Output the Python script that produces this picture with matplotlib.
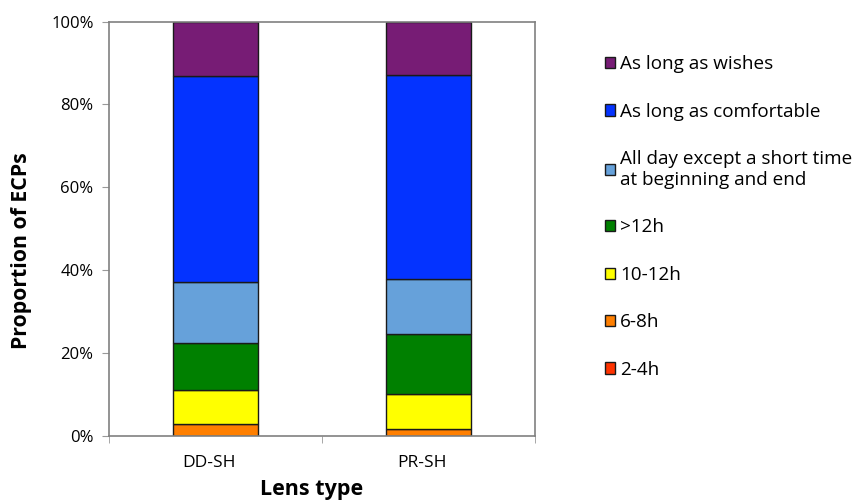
import numpy as np
import matplotlib.pyplot as plt
from matplotlib.ticker import PercentFormatter, FixedLocator

plt.rcParams['font.family'] = ['Open Sans', 'DejaVu Sans']

lens_types = ['DD-SH', 'PR-SH']
categories = ['2-4h', '6-8h', '10-12h', '>12h',
              'All day except a short time\nat beginning and end',
              'As long as comfortable', 'As long as wishes']
# percentage of ECPs per wearing-time answer, for DD-SH and PR-SH
shares = {
    '2-4h': [0.0, 0.0],
    '6-8h': [2.8, 1.6],
    '10-12h': [8.3, 8.5],
    '>12h': [11.3, 14.5],
    'All day except a short time\nat beginning and end': [14.8, 13.2],
    'As long as comfortable': [49.7, 49.4],
    'As long as wishes': [13.1, 12.8],
}
colors = ['#FF3300', '#FF7F00', '#FFFF00', '#008000', '#66A1DA', '#0433FF', '#771C75']

fig = plt.figure(figsize=(8.64, 5.01), dpi=100)
ax = fig.add_axes([0.126, 0.1307, 0.493, 0.8263])

x = np.arange(len(lens_types)) + 0.5
bottom = np.zeros(len(lens_types))
handles = []
for cat, col in zip(categories, colors):
    vals = np.array(shares[cat])
    b = ax.bar(x, vals, 0.4, bottom=bottom, color=col, edgecolor='#1a1a1a',
               linewidth=1.0, label=cat)
    handles.append(b)
    bottom += vals

ax.set_xlim(0, 2)
ax.set_ylim(0, 100)
ax.yaxis.set_major_locator(FixedLocator([0, 20, 40, 60, 80, 100]))
ax.yaxis.set_major_formatter(PercentFormatter(decimals=0))
ax.set_xticks(x - 0.03)
ax.set_xticklabels(lens_types)
ax.set_xticks([0, 1, 2], minor=True)
ax.tick_params(axis='x', which='major', length=0, pad=14, labelsize=12.5)
ax.tick_params(axis='x', which='minor', length=5, color='#999999')
ax.tick_params(axis='y', length=5, color='#999999', labelsize=12, pad=6)
for s in ax.spines.values():
    s.set_color('#808080')
    s.set_linewidth(1.2)

ax.set_ylabel('Proportion of ECPs', fontsize=15.3, fontweight='bold')
ax.yaxis.set_label_coords(-0.181, 0.446)
ax.set_xlabel('Lens type', fontsize=15.5, fontweight='bold')
ax.xaxis.set_label_coords(0.475, -0.105)

leg = fig.legend(handles[::-1], categories[::-1], loc='upper left',
                 bbox_to_anchor=(0.691, 0.905), frameon=False, fontsize=13.6,
                 handlelength=0.54, handleheight=0.54, handletextpad=0.28,
                 labelspacing=1.56, borderaxespad=0)

fig.savefig('out.png', dpi=100)
